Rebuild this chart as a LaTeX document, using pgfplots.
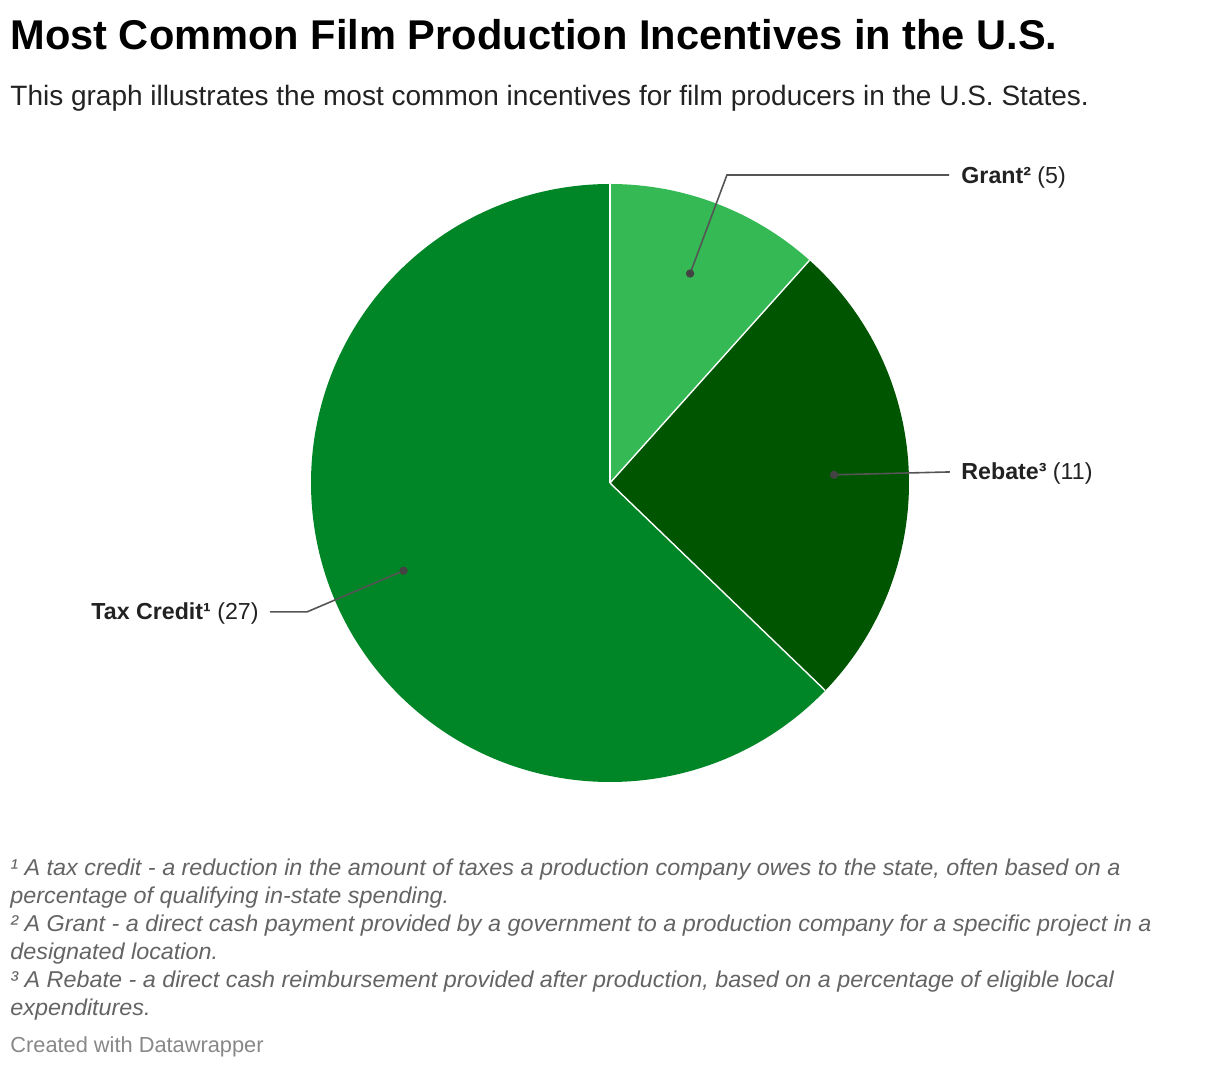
\documentclass[border=0pt]{standalone}
\usepackage{pgfplots}
\pgfplotsset{compat=1.18}
\usepackage{pgfplotstable}
\usepackage{fontspec}
\setmainfont{Liberation Sans}
\newfontfamily\footfont{Liberation Sans}[FakeStretch=1.02]
\definecolor{grantc}{RGB}{53,185,85}
\definecolor{rebatec}{RGB}{0,85,0}
\definecolor{taxc}{RGB}{0,134,38}
\definecolor{txt}{RGB}{34,34,34}
\definecolor{leader}{RGB}{85,85,85}
\definecolor{foot}{RGB}{100,100,100}
\definecolor{credit}{RGB}{136,136,136}

\pgfplotstableread{
name value
Grant 5
Rebate 11
TaxCredit 27
}\piedata

\begin{document}%
\begin{tikzpicture}
\pgfplotstablegetelem{0}{value}\of\piedata \let\vA\pgfplotsretval
\pgfplotstablegetelem{1}{value}\of\piedata \let\vB\pgfplotsretval
\pgfplotstablegetelem{2}{value}\of\piedata \let\vC\pgfplotsretval
\pgfmathsetmacro\tot{\vA+\vB+\vC}
\pgfmathsetmacro\aA{90}
\pgfmathsetmacro\aB{90-360*\vA/\tot}
\pgfmathsetmacro\aC{\aB-360*\vB/\tot}
\pgfmathsetmacro\aD{\aC-360*\vC/\tot}
\pgfmathsetmacro\mA{(\aA+\aB)/2}
\pgfmathsetmacro\mB{(\aB+\aC)/2}
\pgfmathsetmacro\mC{(\aC+\aD)/2}
\fill[white] (0,0) rectangle (610pt,-534pt);
\useasboundingbox (0,0) rectangle (610pt,-534pt);
\begin{scope}[x=0.5pt,y=-0.5pt]
\node[anchor=base west,inner sep=0,font=\fontsize{20.8pt}{24pt}\selectfont\bfseries] at (10,50) {Most Common Film Production Incentives in the U.S.};
\node[anchor=base west,inner sep=0,text=txt,font=\fontsize{14pt}{16pt}\selectfont] at (10,106) {This graph illustrates the most common incentives for film producers in the U.S. States.};
\begin{scope}[every node/.style={anchor=base west,inner sep=0,text=foot,font=\footfont\fontsize{11.45pt}{14pt}\selectfont\itshape}]
\node at (10,875) {¹ A tax credit - a reduction in the amount of taxes a production company owes to the state, often based on a};
\node at (10,903) {percentage of qualifying in-state spending.};
\node at (10,931) {² A Grant - a direct cash payment provided by a government to a production company for a specific project in a};
\node at (10,959) {designated location.};
\node at (10,987) {³ A Rebate - a direct cash reimbursement provided after production, based on a percentage of eligible local};
\node at (10,1015) {expenditures.};
\end{scope}
\node[anchor=base west,inner sep=0,text=credit,font=\fontsize{10.9pt}{12pt}\selectfont] at (10,1052) {Created with Datawrapper};
\end{scope}
\begin{axis}[
  at={(305pt,-241.5pt)}, anchor=origin,
  hide axis, scale only axis, width=299pt, height=299pt,
  xmin=-1, xmax=1, ymin=-1, ymax=1, clip=false]
\fill[grantc] (axis cs:0,0) -- (axis cs:{cos(\aA)},{sin(\aA)}) arc[start angle=\aA, end angle=\aB, radius=149.5pt] -- cycle;
\fill[rebatec] (axis cs:0,0) -- (axis cs:{cos(\aB)},{sin(\aB)}) arc[start angle=\aB, end angle=\aC, radius=149.5pt] -- cycle;
\fill[taxc] (axis cs:0,0) -- (axis cs:{cos(\aC)},{sin(\aC)}) arc[start angle=\aC, end angle=\aD, radius=149.5pt] -- cycle;
\draw[white, line width=0.7pt] (axis cs:0,0) -- (axis cs:{cos(\aA)},{sin(\aA)});
\draw[white, line width=0.7pt] (axis cs:0,0) -- (axis cs:{cos(\aB)},{sin(\aB)});
\draw[white, line width=0.7pt] (axis cs:0,0) -- (axis cs:{cos(\aC)},{sin(\aC)});
% leaders
\draw[leader, line width=0.8pt] (axis cs:{0.75*cos(\mA)},{0.75*sin(\mA)}) -- (axis cs:0.391,1.030) -- (axis cs:1.134,1.030);
\draw[leader, line width=0.8pt] (axis cs:{0.75*cos(\mB)},{0.75*sin(\mB)}) -- (axis cs:1.137,0.037);
\draw[leader, line width=0.8pt] (axis cs:{0.75*cos(\mC)},{0.75*sin(\mC)}) -- (axis cs:-1.013,-0.431) -- (axis cs:-1.137,-0.431);
\fill[txt!85!white] (axis cs:{0.75*cos(\mA)},{0.75*sin(\mA)}) circle[radius=2.1pt];
\fill[txt!85!white] (axis cs:{0.75*cos(\mB)},{0.75*sin(\mB)}) circle[radius=2.1pt];
\fill[txt!85!white] (axis cs:{0.75*cos(\mC)},{0.75*sin(\mC)}) circle[radius=2.1pt];
\node[anchor=west,inner sep=0,yshift=-1pt,text=txt,font=\fontsize{11.6pt}{13pt}\selectfont] at (axis cs:1.174,1.030) {\textbf{Grant²} (5)};
\node[anchor=west,inner sep=0,yshift=-1pt,text=txt,font=\fontsize{11.6pt}{13pt}\selectfont] at (axis cs:1.174,0.037) {\textbf{Rebate³} (11)};
\node[anchor=east,inner sep=0,yshift=-1pt,text=txt,font=\fontsize{11.6pt}{13pt}\selectfont] at (axis cs:-1.174,-0.431) {\textbf{Tax Credit¹} (27)};
\end{axis}
\end{tikzpicture}%
\end{document}
